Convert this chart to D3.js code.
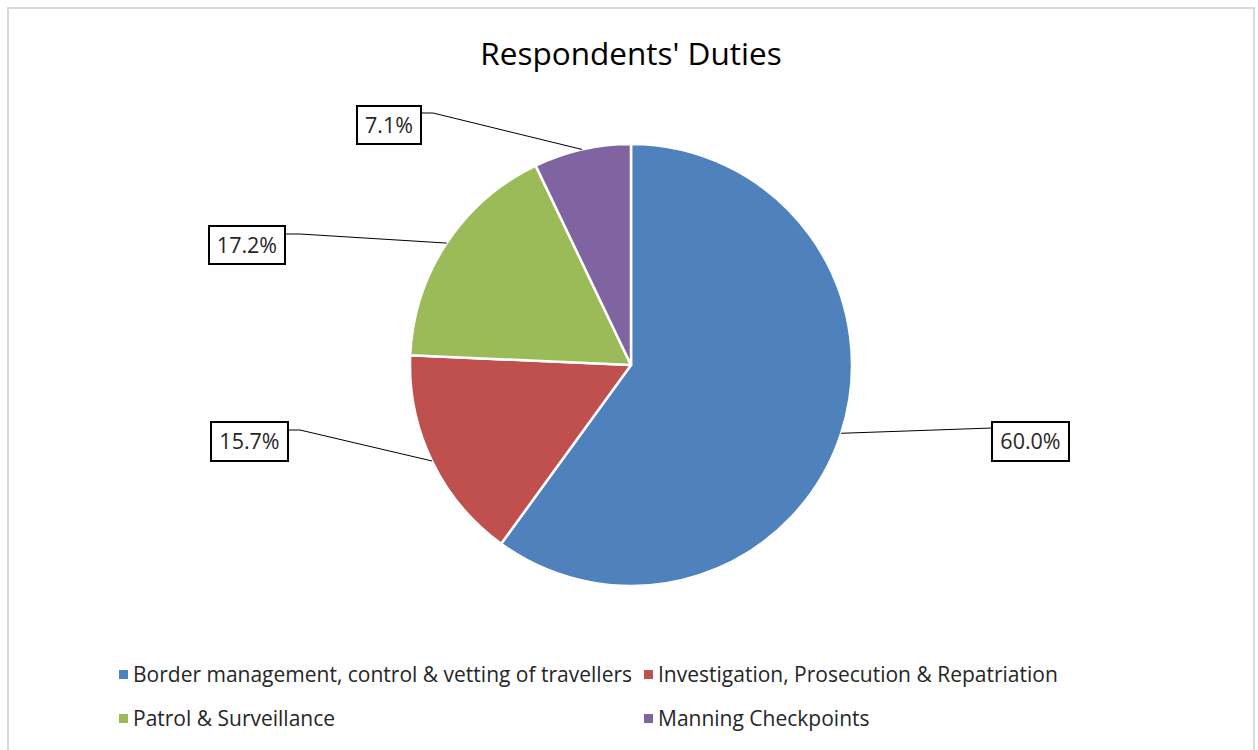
<!DOCTYPE html>
<html><head><meta charset="utf-8">
<script src="https://cdn.jsdelivr.net/npm/d3@7"></script>
<style>body{margin:0;background:#fff}svg{display:block}</style>
</head><body>
<svg id="c" width="1258" height="750"></svg>
<script>
const categories = ["Border management, control & vetting of travellers","Investigation, Prosecution & Repatriation","Patrol & Surveillance","Manning Checkpoints"];
const values = [60.0, 15.7, 17.2, 7.1];
const labels = ["60.0%","15.7%","17.2%","7.1%"];
const colors = ["#4F81BD","#C0504D","#9BBB59","#8064A2"];

const FONT = "'Open Sans', 'Noto Sans', sans-serif";
const svg = d3.select("#c");
svg.append("rect").attr("x",8).attr("y",8).attr("width",1246).attr("height",750).attr("fill","#fff").attr("stroke","#d9d9d9").attr("stroke-width",2);

svg.append("text").attr("x",631).attr("y",65).attr("text-anchor","middle")
  .attr("font-family",FONT).attr("font-size",31.5).attr("fill","#000").text("Respondents' Duties");

const cx=631, cy=365, R=221;
const pie = d3.pie().sort(null).value(d=>d)(values);
const arc = d3.arc().innerRadius(0).outerRadius(R);
const g = svg.append("g").attr("transform",`translate(${cx},${cy})`);
g.selectAll("path").data(pie).join("path").attr("d",arc)
  .attr("fill",(d,i)=>colors[i]).attr("stroke","#fff").attr("stroke-width",2.5).attr("stroke-linejoin","round");

// label box layout
const boxes = [
  {x:992,y:422,w:77,h:39,ex:992,ey:428,side:"left"},
  {x:211,y:422,w:77,h:39,ex:300,ey:430,side:"right"},
  {x:209,y:226,w:76,h:38,ex:300,ey:234,side:"right"},
  {x:357,y:106,w:64,h:38,ex:433,ey:113,side:"right"}
];
pie.forEach((d,i)=>{
  const a=(d.startAngle+d.endAngle)/2;
  const px=cx+R*Math.sin(a), py=cy-R*Math.cos(a);
  const b=boxes[i];
  let pts;
  if(b.side==="left") pts=[[px,py],[b.ex,b.ey]];
  else pts=[[px,py],[b.ex,b.ey],[b.x+b.w,b.ey]];
  svg.append("path").attr("d",d3.line()(pts)).attr("fill","none").attr("stroke","#000").attr("stroke-width",1);
  svg.append("rect").attr("x",b.x).attr("y",b.y).attr("width",b.w).attr("height",b.h)
    .attr("fill","#fff").attr("stroke","#000").attr("stroke-width",2);
  svg.append("text").attr("x",b.x+b.w/2).attr("y",b.y+b.h/2+7.5).attr("text-anchor","middle")
    .attr("font-family",FONT).attr("font-size",21.5).attr("fill","#262626").text(labels[i]);
});

const legPos=[[123,674],[648,674],[123,718],[648,718]];
categories.forEach((c,i)=>{
  const [x,y]=legPos[i];
  svg.append("rect").attr("x",x-4).attr("y",y-4).attr("width",9).attr("height",9).attr("fill",colors[i]);
  svg.append("text").attr("x",x+10).attr("y",y+7.5).attr("font-family",FONT).attr("font-size",21).attr("fill","#262626").text(c);
});
</script>
</body></html>
